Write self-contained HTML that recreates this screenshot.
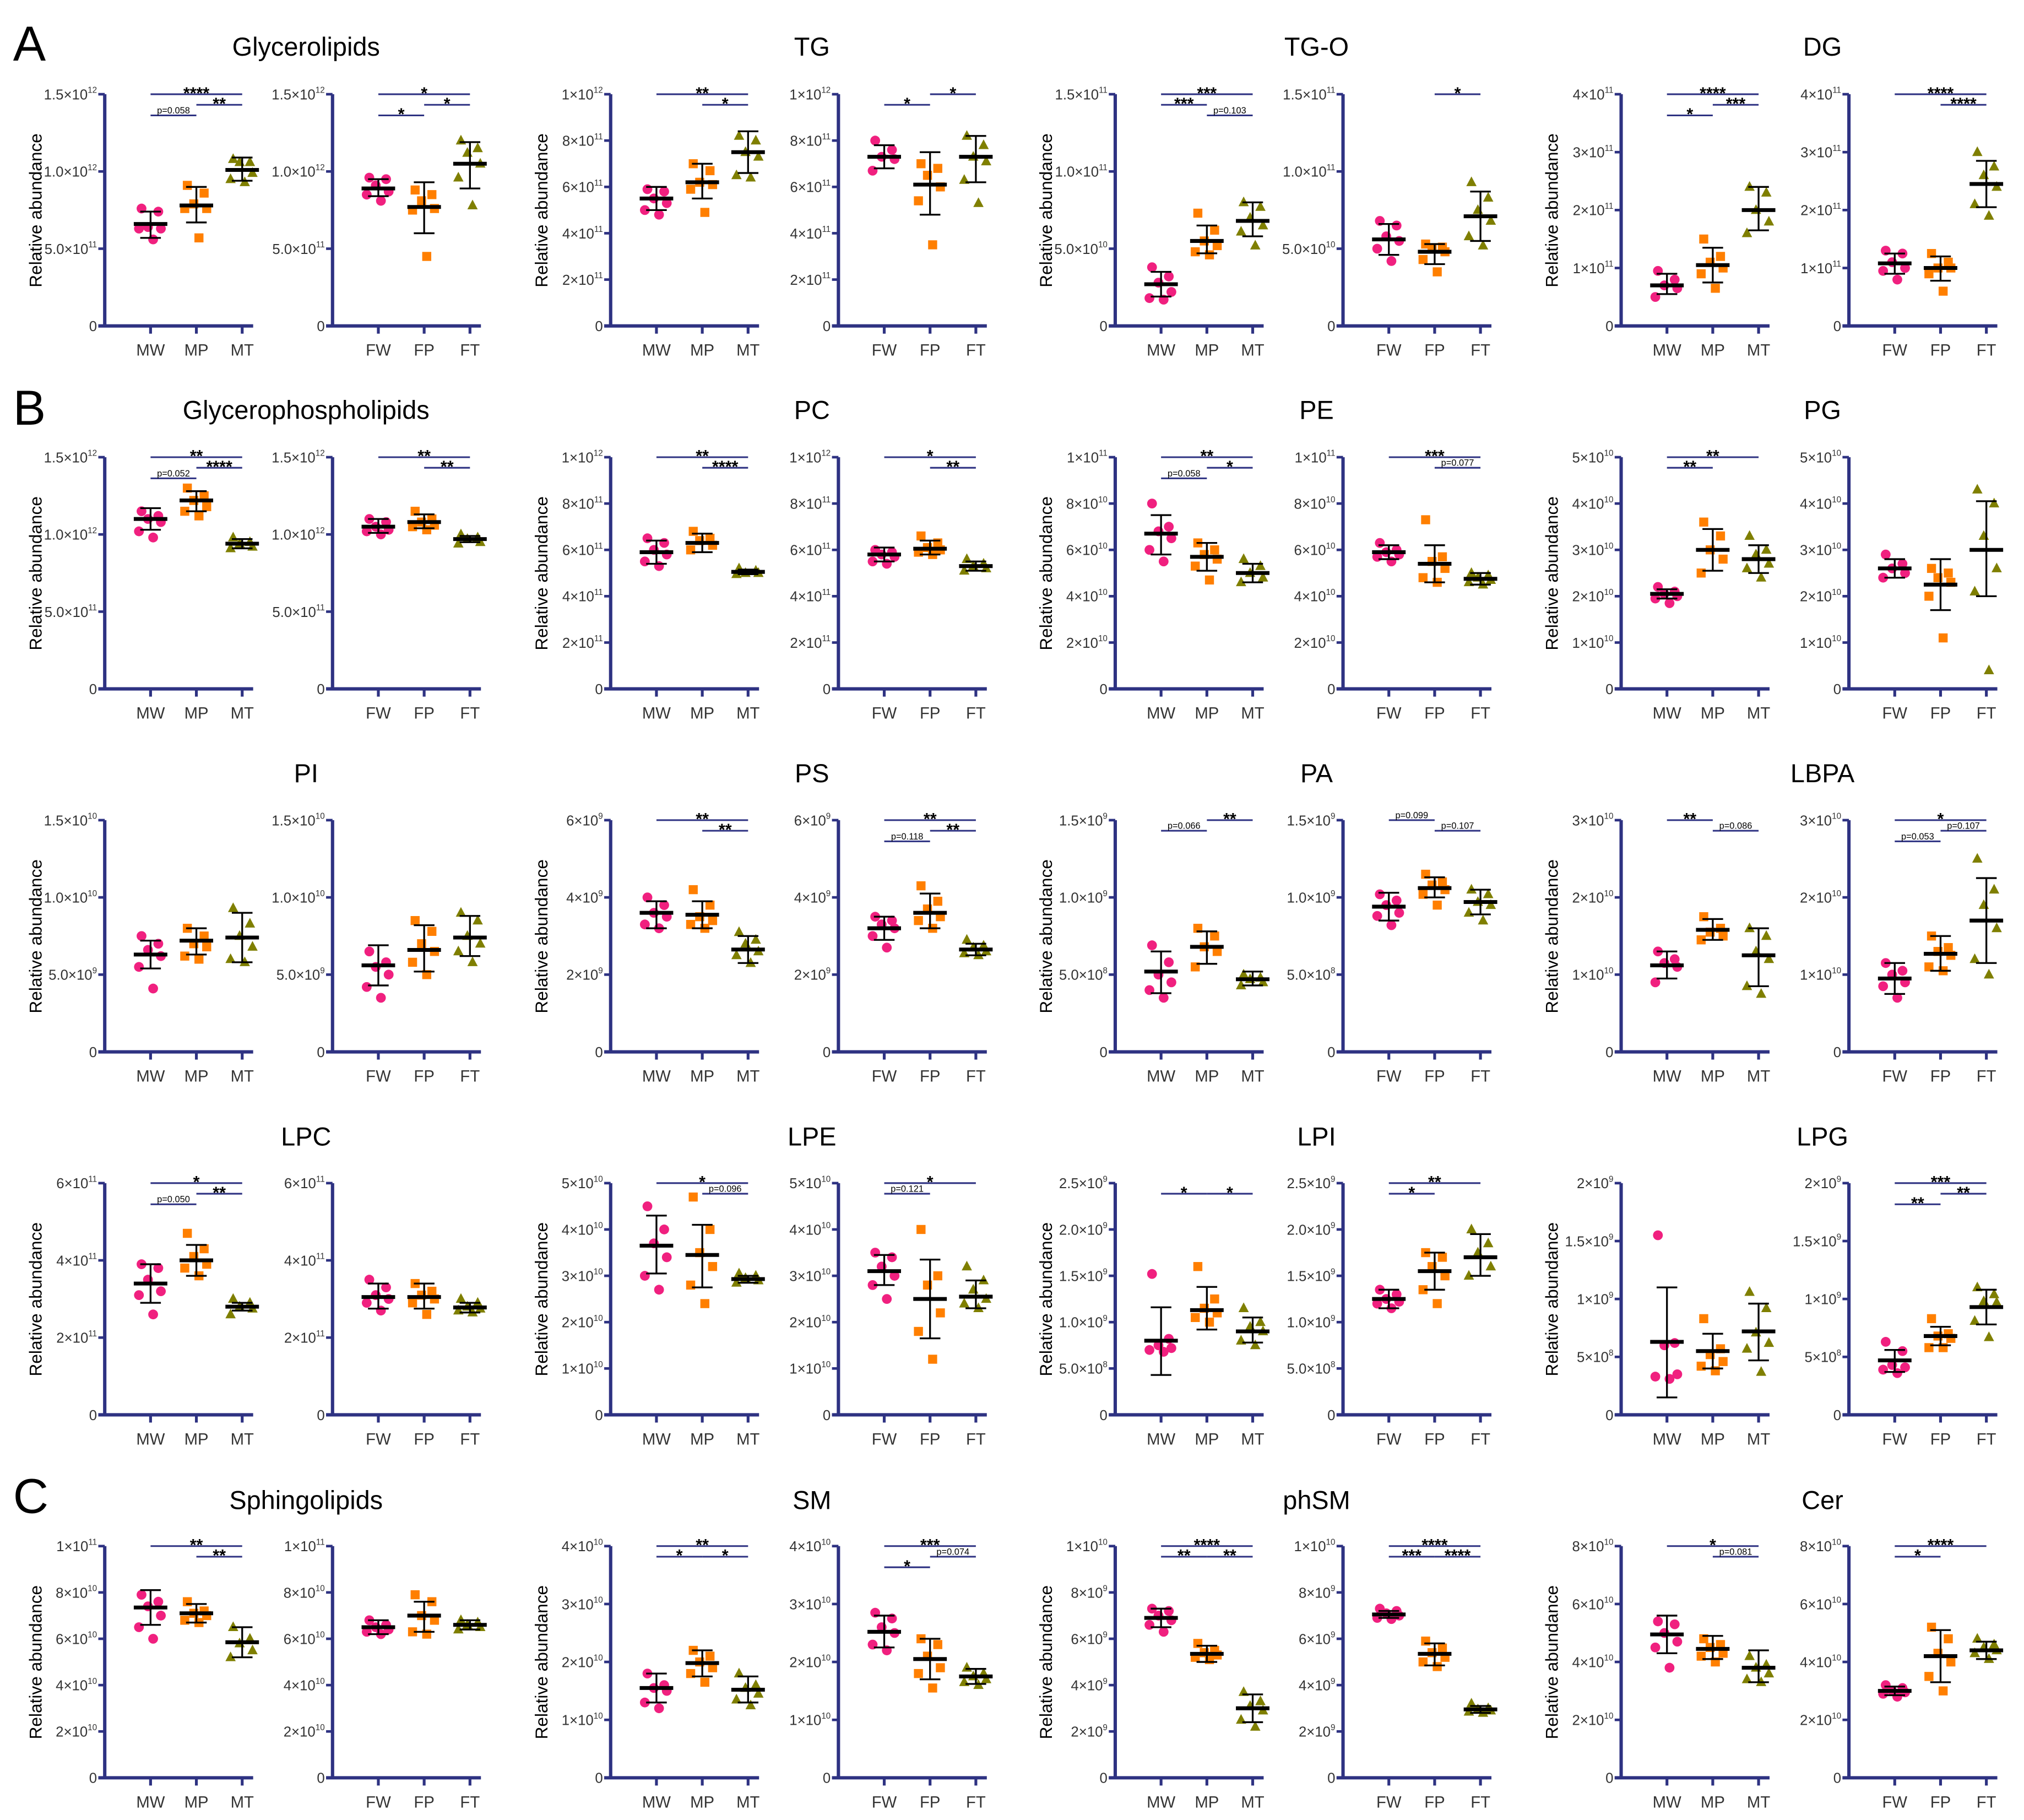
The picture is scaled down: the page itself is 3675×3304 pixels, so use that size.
<!DOCTYPE html>
<html><head><meta charset="utf-8"><style>
html,body{margin:0;padding:0;background:#fff;}
svg{display:block;}
text{font-family:"Liberation Sans",sans-serif;}
</style></head>
<body>
<svg id="fig" xmlns="http://www.w3.org/2000/svg" width="3675" height="3304" viewBox="0 0 1568 1410">
<rect width="1568" height="1410" fill="#fff"/>
<text x="10" y="47" font-size="38">A</text>
<text x="10" y="329" font-size="38">B</text>
<text x="10" y="1172" font-size="38">C</text>
</svg>
<script>
const titles = ["Glycerolipids","TG","TG-O","DG","Glycerophospholipids","PC","PE","PG","PI","PS","PA","LBPA","LPC","LPE","LPI","LPG","Sphingolipids","SM","phSM","Cer"];
const catsM = ["MW","MP","MT"];
const catsF = ["FW","FP","FT"];
const L15a=["0","5.0×10^11","1.0×10^12","1.5×10^12"];
const L10a=["0","2×10^11","4×10^11","6×10^11","8×10^11","1×10^12"];
const L15b=["0","5.0×10^10","1.0×10^11","1.5×10^11"];
const L4a=["0","1×10^11","2×10^11","3×10^11","4×10^11"];
const L10b=["0","2×10^10","4×10^10","6×10^10","8×10^10","1×10^11"];
const L5a=["0","1×10^10","2×10^10","3×10^10","4×10^10","5×10^10"];
const L15c=["0","5.0×10^9","1.0×10^10","1.5×10^10"];
const L6a=["0","2×10^9","4×10^9","6×10^9"];
const L15d=["0","5.0×10^8","1.0×10^9","1.5×10^9"];
const L3a=["0","1×10^10","2×10^10","3×10^10"];
const L6b=["0","2×10^11","4×10^11","6×10^11"];
const L25=["0","5.0×10^8","1.0×10^9","1.5×10^9","2.0×10^9","2.5×10^9"];
const L2a=["0","5×10^8","1×10^9","1.5×10^9","2×10^9"];
const L4b=["0","1×10^10","2×10^10","3×10^10","4×10^10"];
const L10c=["0","2×10^9","4×10^9","6×10^9","8×10^9","1×10^10"];
const L8a=["0","2×10^10","4×10^10","6×10^10","8×10^10"];
const tickLabels=[L15a,L15a,L10a,L10a,L15b,L15b,L4a,L4a,
 L15a,L15a,L10a,L10a,L10b,L10b,L5a,L5a,
 L15c,L15c,L6a,L6a,L15d,L15d,L3a,L3a,
 L6b,L6b,L5a,L5a,L25,L25,L2a,L2a,
 L10b,L10b,L4b,L4b,L10c,L10c,L8a,L8a];
const yMax=[15,15,10,10,15,15,4,4, 15,15,10,10,10,10,5,5, 15,15,6,6,15,15,3,3, 6,6,5,5,2.5,2.5,2,2, 10,10,4,4,10,10,8,8];
const points=[
[[7.6,7.4,6.4,6.3,6.3,5.6],[9.1,8.6,7.9,7.6,7.6,5.7],[10.8,10.6,10.6,9.9,9.5,9.3]],
[[9.6,9.5,9.1,8.7,8.5,8.1],[8.8,8.5,8.1,7.6,7.5,4.5],[12.0,11.5,11.2,10.5,9.6,7.8]],
[[5.9,5.8,5.5,5.3,5.0,4.8],[7.0,6.7,6.2,6.1,5.9,4.9],[8.2,8.0,7.5,7.3,6.5,6.4]],
[[8.0,7.6,7.3,7.2,6.7],[7.0,6.8,6.5,6.0,5.4,3.5],[8.2,7.8,7.3,7.1,6.3,5.3]],
[[3.8,3.2,2.8,2.2,1.8,1.7],[7.3,6.2,5.5,5.2,4.8,4.6],[8.0,7.7,7.0,6.5,6.1,5.2]],
[[6.8,6.5,5.8,5.5,5.0,4.2],[5.3,5.1,5.0,4.8,4.3,3.5],[9.3,8.3,7.5,6.8,5.8,5.2]],
[[0.95,0.8,0.7,0.65,0.5],[1.5,1.2,1.1,1.0,0.9,0.65],[2.4,2.3,2.0,1.8,1.6]],
[[1.3,1.25,1.1,1.0,0.95,0.8],[1.25,1.1,1.0,1.0,0.9,0.6],[3.0,2.75,2.6,2.4,2.1,1.9]],
[[11.5,11.2,11.0,10.8,10.2,9.8],[13.0,12.5,12.2,11.8,11.5,11.2],[9.8,9.5,9.4,9.2,9.1]],
[[11.0,10.8,10.5,10.3,10.2,10.0],[11.5,11.0,10.8,10.6,10.5,10.3],[10.0,9.8,9.7,9.5,9.4]],
[[6.5,6.3,6.0,5.8,5.5,5.3],[6.8,6.5,6.4,6.2,6.0],[5.2,5.1,5.0,5.0,4.95]],
[[6.0,5.9,5.8,5.7,5.5,5.4],[6.6,6.3,6.1,6.0,5.9,5.8],[5.6,5.4,5.3,5.2,5.1]],
[[8.0,7.0,6.8,6.5,6.0,5.5],[6.3,6.0,5.8,5.6,5.3,4.7],[5.6,5.3,5.0,4.8,4.6]],
[[6.3,6.0,5.9,5.8,5.7,5.5],[7.3,5.7,5.5,5.2,4.8,4.6],[5.0,4.9,4.8,4.7,4.6,4.5]],
[[2.2,2.1,2.05,2.0,1.95,1.85],[3.6,3.3,3.0,2.8,2.5],[3.3,3.0,2.9,2.7,2.6,2.4]],
[[2.9,2.7,2.6,2.5,2.4],[2.6,2.5,2.4,2.3,2.0,1.1],[4.3,4.0,3.3,2.6,2.1,0.4]],
[[7.5,7.0,6.6,6.2,5.5,4.1],[8.0,7.5,7.0,6.8,6.2,6.0],[9.3,8.3,7.5,6.8,6.0,5.8]],
[[6.5,5.8,5.5,5.0,4.2,3.5],[8.5,7.8,7.0,6.5,5.8,5.0],[9.0,8.5,7.5,7.0,6.5,5.8]],
[[4.0,3.8,3.6,3.5,3.3,3.2],[4.2,3.8,3.5,3.4,3.3,3.2],[3.1,2.9,2.8,2.6,2.5,2.3]],
[[3.5,3.4,3.3,3.2,3.0,2.7],[4.3,3.9,3.7,3.5,3.4,3.2],[2.9,2.75,2.7,2.6,2.55,2.5]],
[[6.9,5.8,5.0,4.5,4.0,3.5],[8.0,7.5,6.8,6.5,5.5],[5.0,4.8,4.7,4.5,4.3]],
[[10.2,9.8,9.5,9.0,8.8,8.2],[11.5,11.0,10.8,10.5,10.2,9.5],[10.5,10.2,9.7,9.5,9.0,8.5]],
[[1.3,1.2,1.15,1.1,0.9],[1.75,1.6,1.55,1.5,1.45],[1.6,1.5,1.3,1.2,0.85,0.75]],
[[1.15,1.05,1.0,0.9,0.85,0.7],[1.5,1.35,1.3,1.25,1.1,1.05],[2.5,2.1,1.9,1.6,1.2,1.0]],
[[3.9,3.8,3.5,3.2,3.1,2.6],[4.7,4.3,4.1,3.9,3.8,3.6],[3.0,2.9,2.8,2.75,2.6]],
[[3.5,3.3,3.1,3.0,2.9,2.7],[3.4,3.2,3.1,3.0,2.9,2.6],[3.0,2.9,2.8,2.75,2.7,2.65]],
[[4.5,4.0,3.7,3.4,3.0,2.7],[4.7,4.0,3.5,3.2,2.8,2.4],[3.05,3.0,2.95,2.9,2.85]],
[[3.5,3.4,3.2,3.0,2.8,2.5],[4.0,3.0,2.8,2.2,1.8,1.2],[3.2,2.9,2.7,2.5,2.4,2.3]],
[[1.52,0.82,0.75,0.72,0.70,0.68],[1.6,1.25,1.15,1.1,1.05,1.0],[1.15,1.0,0.95,0.9,0.8,0.75]],
[[1.35,1.3,1.25,1.22,1.2,1.15],[1.75,1.7,1.6,1.5,1.35,1.2],[2.0,1.85,1.75,1.6,1.5]],
[[1.55,0.62,0.6,0.35,0.33,0.31],[0.83,0.57,0.52,0.46,0.42,0.38],[1.06,0.92,0.71,0.62,0.57,0.37]],
[[0.63,0.55,0.43,0.41,0.39,0.36],[0.83,0.7,0.68,0.66,0.58,0.58],[1.1,1.04,0.98,0.97,0.81,0.67]],
[[7.9,7.6,7.4,7.0,6.5,6.0],[7.6,7.2,7.1,7.0,6.8,6.7],[6.5,6.0,5.8,5.5,5.2]],
[[6.8,6.6,6.5,6.4,6.3,6.2],[7.9,7.6,7.0,6.8,6.3,6.2],[6.8,6.7,6.6,6.5,6.4]],
[[1.8,1.6,1.55,1.5,1.3,1.2],[2.2,2.1,2.0,1.9,1.8,1.65],[1.8,1.6,1.55,1.45,1.35,1.25]],
[[2.85,2.75,2.6,2.5,2.3,2.2],[2.4,2.3,2.1,1.9,1.8,1.55],[1.9,1.8,1.75,1.7,1.65,1.6]],
[[7.3,7.2,7.0,6.8,6.6,6.3],[5.8,5.5,5.4,5.3,5.2,5.1],[3.7,3.3,3.1,2.9,2.5,2.2]],
[[7.3,7.2,7.1,7.0,6.9,6.85],[5.9,5.6,5.4,5.2,5.0,4.8],[3.2,3.0,2.95,2.9,2.85,2.8]],
[[5.4,5.3,5.0,4.7,4.5,3.8],[4.8,4.6,4.5,4.3,4.2,4.0],[4.2,3.9,3.8,3.6,3.4,3.3]],
[[3.2,3.1,3.0,2.95,2.9,2.8],[5.2,4.8,4.3,4.0,3.5,3.0],[4.8,4.6,4.5,4.4,4.3,4.1]]
];
const means=[[6.6,7.8,10.1],[8.9,7.7,10.5],[5.5,6.2,7.5],[7.3,6.1,7.3],[2.7,5.5,6.8],[5.6,4.8,7.1],[0.7,1.05,2.0],[1.08,1.0,2.45],
[11.0,12.2,9.4],[10.5,10.8,9.7],[5.9,6.3,5.05],[5.8,6.05,5.3],[6.7,5.7,5.0],[5.9,5.4,4.75],[2.05,3.0,2.8],[2.6,2.25,3.0],
[6.3,7.2,7.4],[5.6,6.6,7.4],[3.6,3.55,2.65],[3.2,3.6,2.65],[5.2,6.8,4.7],[9.4,10.6,9.7],[1.12,1.58,1.25],[0.95,1.27,1.7],
[3.4,4.0,2.8],[3.05,3.05,2.78],[3.65,3.45,2.93],[3.1,2.5,2.55],[0.8,1.13,0.9],[1.25,1.55,1.7],[0.63,0.55,0.72],[0.47,0.68,0.93],
[7.35,7.1,5.85],[6.5,7.0,6.6],[1.55,1.98,1.52],[2.52,2.05,1.75],[6.9,5.35,3.0],[7.05,5.35,2.95],[4.95,4.45,3.8],[3.0,4.2,4.4]];
const errLo=[[5.7,6.7,9.4],[8.4,6.0,8.9],[5.0,5.5,6.6],[6.8,4.8,6.2],[1.9,4.7,5.8],[4.6,4.0,5.5],[0.55,0.75,1.65],[0.9,0.78,2.05],
[10.3,11.5,9.1],[10.1,10.4,9.5],[5.4,5.9,4.95],[5.5,5.8,5.1],[5.8,5.1,4.6],[5.6,4.6,4.5],[1.95,2.55,2.5],[2.4,1.7,2.0],
[5.4,6.3,5.8],[4.3,5.2,6.2],[3.2,3.2,2.3],[2.9,3.2,2.5],[3.8,5.7,4.3],[8.5,10.0,8.9],[0.95,1.45,0.85],[0.75,1.05,1.15],
[2.9,3.6,2.7],[2.75,2.75,2.65],[3.05,2.75,2.85],[2.8,1.65,2.3],[0.43,0.92,0.78],[1.15,1.35,1.5],[0.15,0.4,0.47],[0.37,0.6,0.78],
[6.6,6.7,5.2],[6.2,6.3,6.4],[1.3,1.75,1.3],[2.25,1.7,1.62],[6.5,5.0,2.4],[6.9,4.85,2.8],[4.3,4.1,3.3],[2.85,3.3,4.1]];
const errHi=[[7.4,9.0,10.9],[9.5,9.3,11.9],[6.0,7.0,8.4],[7.8,7.5,8.2],[3.5,6.5,8.0],[6.6,5.3,8.7],[0.9,1.35,2.4],[1.25,1.2,2.85],
[11.7,12.8,9.7],[11.0,11.3,9.9],[6.4,6.7,5.15],[6.1,6.4,5.5],[7.5,6.3,5.4],[6.2,6.2,5.0],[2.15,3.45,3.1],[2.8,2.8,4.05],
[7.2,8.0,9.0],[6.9,8.2,8.8],[3.9,3.9,3.0],[3.5,4.1,2.8],[6.5,7.8,5.2],[10.3,11.3,10.5],[1.3,1.72,1.6],[1.15,1.5,2.25],
[3.9,4.4,2.9],[3.4,3.4,2.9],[4.3,4.1,3.0],[3.45,3.35,2.9],[1.16,1.38,1.05],[1.35,1.75,1.95],[1.1,0.7,0.96],[0.56,0.76,1.08],
[8.1,7.5,6.5],[6.8,7.6,6.8],[1.8,2.2,1.75],[2.8,2.4,1.88],[7.3,5.7,3.6],[7.2,5.8,3.1],[5.6,4.9,4.4],[3.15,5.1,4.7]];
// significance: [fromGroup, toGroup, level, label]
const sigs=[
[[0,2,1,"****"],[1,2,2,"**"],[0,1,3,"p=0.058"]],
[[0,2,1,"*"],[1,2,2,"*"],[0,1,3,"*"]],
[[0,2,1,"**"],[1,2,2,"*"]],
[[1,2,1,"*"],[0,1,2,"*"]],
[[0,2,1,"***"],[0,1,2,"***"],[1,2,3,"p=0.103"]],
[[1,2,1,"*"]],
[[0,2,1,"****"],[1,2,2,"***"],[0,1,3,"*"]],
[[0,2,1,"****"],[1,2,2,"****"]],
[[0,2,1,"**"],[1,2,2,"****"],[0,1,3,"p=0.052"]],
[[0,2,1,"**"],[1,2,2,"**"]],
[[0,2,1,"**"],[1,2,2,"****"]],
[[0,2,1,"*"],[1,2,2,"**"]],
[[0,2,1,"**"],[1,2,2,"*"],[0,1,3,"p=0.058"]],
[[0,2,1,"***"],[1,2,2,"p=0.077"]],
[[0,2,1,"**"],[0,1,2,"**"]],
[],
[],[],
[[0,2,1,"**"],[1,2,2,"**"]],
[[0,2,1,"**"],[1,2,2,"**"],[0,1,3,"p=0.118"]],
[[1,2,1,"**"],[0,1,2,"p=0.066"]],
[[0,1,1,"p=0.099"],[1,2,2,"p=0.107"]],
[[0,1,1,"**"],[1,2,2,"p=0.086"]],
[[0,2,1,"*"],[1,2,2,"p=0.107"],[0,1,3,"p=0.053"]],
[[0,2,1,"*"],[1,2,2,"**"],[0,1,3,"p=0.050"]],
[],
[[0,2,1,"*"],[1,2,2,"p=0.096"]],
[[0,2,1,"*"],[0,1,2,"p=0.121"]],
[[0,1,2,"*"],[1,2,2,"*"]],
[[0,2,1,"**"],[0,1,2,"*"]],
[],
[[0,2,1,"***"],[1,2,2,"**"],[0,1,3,"**"]],
[[0,2,1,"**"],[1,2,2,"**"]],
[],
[[0,2,1,"**"],[0,1,2,"*"],[1,2,2,"*"]],
[[0,2,1,"***"],[1,2,2,"p=0.074"],[0,1,3,"*"]],
[[0,2,1,"****"],[0,1,2,"**"],[1,2,2,"**"]],
[[0,2,1,"****"],[0,1,2,"***"],[1,2,2,"****"]],
[[0,2,1,"*"],[1,2,2,"p=0.081"]],
[[0,2,1,"****"],[0,1,2,"*"]]
];
const NS="http://www.w3.org/2000/svg";
const svg=document.getElementById("fig");
const AX="#2e3282";
const colors=["#f0207f","#ff7f00","#7f7f00"];
const jitter=[-7,6,-2,8,-9,2];
function mk(tag,attrs,parent){const e=document.createElementNS(NS,tag);for(const k in attrs)e.setAttribute(k,attrs[k]);(parent||svg).appendChild(e);return e;}
const pairX=[81,473,864,1256];
for(let r=0;r<5;r++){
  const top=73+r*281.2, bot=top+179.5;
  for(let p=0;p<4;p++){
    const t=mk("text",{x:pairX[p]+156,y:43+r*281.5,"font-size":20,"text-anchor":"middle"});
    
    
    t.textContent=titles[r*4+p];
    const yl=mk("text",{x:0,y:0,"font-size":13.5,"text-anchor":"middle",transform:`translate(${pairX[p]-49},${top+90}) rotate(-90)`});
    
    
    yl.textContent="Relative abundance";
    for(let s=0;s<2;s++){
      const idx=r*8+p*2+s;
      const ax=pairX[p]+s*176.5;
      const g=mk("g",{});
      
      
      const ym=yMax[idx];
      const Y=v=>bot-(v/ym)*(bot-top);
      const X=i=>ax+35.5+i*35.5;
      // axes
      mk("line",{x1:ax,y1:top,x2:ax,y2:bot,stroke:AX,"stroke-width":2.6},g);
      mk("line",{x1:ax-5,y1:bot,x2:ax+115,y2:bot,stroke:AX,"stroke-width":2.6},g);
      const labs=tickLabels[idx];
      labs.forEach((lab,i)=>{
        const v=i*ym/(labs.length-1), y=Y(v);
        mk("line",{x1:ax-5,y1:y,x2:ax,y2:y,stroke:AX,"stroke-width":2},g);
        const tx=mk("text",{x:ax-6,y:y+4,"font-size":11,fill:"#333","text-anchor":"end"},g);
        
        
        const parts=lab.split("^");
        const a=mk("tspan",{},tx);a.textContent=parts[0];
        if(parts[1]){const b=mk("tspan",{"font-size":6.5,dy:-5},tx);b.textContent=parts[1];}
      });
      const cats=s===0?catsM:catsF;
      for(let i=0;i<3;i++){
        const cx=X(i);
        mk("line",{x1:cx,y1:bot,x2:cx,y2:bot+6,stroke:AX,"stroke-width":2.2},g);
        const cl=mk("text",{x:cx,y:bot+23,"font-size":12.5,fill:"#333","text-anchor":"middle"},g);
        
        
        cl.textContent=cats[i];
        points[idx][i].forEach((v,k)=>{
          const px=cx+jitter[k%jitter.length], py=Y(v);
          let m;
          if(i===0) m=mk("circle",{cx:px,cy:py,r:3.8,fill:colors[0]},g);
          else if(i===1) m=mk("rect",{x:px-3.5,y:py-3.5,width:7,height:7,fill:colors[1]},g);
          else m=mk("polygon",{points:`${px},${py-4.5} ${px-4},${py+3} ${px+4},${py+3}`,fill:colors[2]},g);
          
          
        });
        const lo=Y(errLo[idx][i]), hi=Y(errHi[idx][i]), mn=Y(means[idx][i]);
        mk("line",{x1:cx,y1:lo,x2:cx,y2:hi,stroke:"#000","stroke-width":1.4},g);
        mk("line",{x1:cx-8,y1:lo,x2:cx+8,y2:lo,stroke:"#000","stroke-width":1.4},g);
        mk("line",{x1:cx-8,y1:hi,x2:cx+8,y2:hi,stroke:"#000","stroke-width":1.4},g);
        const mb=mk("line",{x1:cx-13,y1:mn,x2:cx+13,y2:mn,stroke:"#000","stroke-width":3},g);
        
        
      }
      sigs[idx].forEach(sg=>{
        const y=top+(sg[2]-1)*8.2;
        const x1=X(sg[0]), x2=X(sg[1]);
        const bl=mk("line",{x1:x1,y1:y,x2:x2,y2:y,stroke:AX,"stroke-width":1.3},g);
        
        
        const isP=sg[3].startsWith("p");
        const st=mk("text",{x:(x1+x2)/2,y:isP?y-1.5:y+3.5,"font-size":isP?7:13,"font-weight":isP?"normal":"bold","text-anchor":"middle"},g);
        
        
        st.textContent=sg[3];
      });
    }
  }
}
</script>
</body></html>
